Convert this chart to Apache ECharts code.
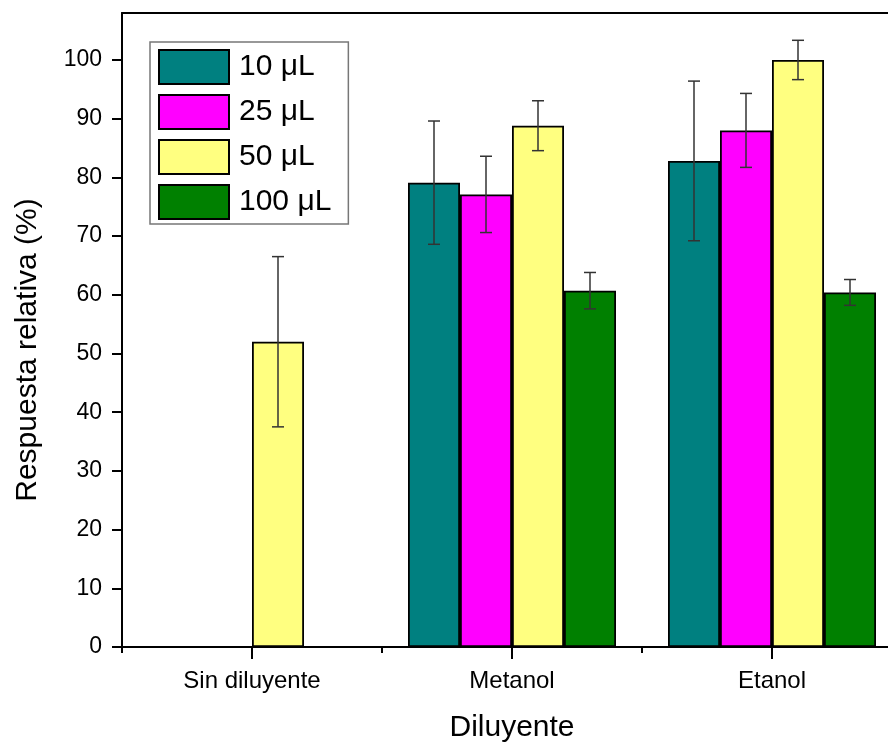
<!DOCTYPE html>
<html>
<head>
<meta charset="utf-8">
<script src="https://cdn.jsdelivr.net/npm/echarts@6/dist/echarts.min.js"></script>
<style>
html,body{margin:0;padding:0;background:#fff;}
#chart{width:888px;height:742px;}
</style>
</head>
<body>
<div id="chart"></div>
<script>
// ---- data ----
const categories = ['Sin diluyente', 'Metanol', 'Etanol'];
const seriesNames = ['10 μL', '25 μL', '50 μL', '100 μL'];
const values10 = [null, 79.1, 82.8];
const values25 = [null, 77.1, 88.0];
const values50 = [52.0, 88.8, 100.0];
const values100 = [null, 60.7, 60.4];
const err10 = [null, 10.5, 13.6];
const err25 = [null, 6.5, 6.3];
const err50 = [14.5, 4.25, 3.35];
const err100 = [null, 3.1, 2.2];
const yTicks = [0, 10, 20, 30, 40, 50, 60, 70, 80, 90, 100];

const colors = ['#008080', '#FF00FF', '#FFFF80', '#008000'];
const allValues = [values10, values25, values50, values100];
const allErrs = [err10, err25, err50, err100];
const FONT = 'Liberation Sans, Arial, sans-serif';

const chart = echarts.init(document.getElementById('chart'), null, {renderer: 'canvas'});

const barSeries = seriesNames.map((name, i) => ({
  name: name,
  type: 'bar',
  xAxisIndex: 0,
  yAxisIndex: 0,
  barGap: '0%',
  barCategoryGap: '20%',
  itemStyle: {color: colors[i], borderColor: '#000', borderWidth: 1.8},
  emphasis: {disabled: true},
  data: allValues[i]
}));

const errSeries = seriesNames.map((name, i) => {
  const offset = (i - 1.5) * 0.2;
  const data = [];
  allValues[i].forEach((v, k) => {
    if (v !== null && allErrs[i][k] !== null) data.push([k, v, allErrs[i][k]]);
  });
  return {
    name: name + ' err',
    type: 'custom',
    xAxisIndex: 0,
    yAxisIndex: 0,
    z: 10,
    silent: true,
    encode: {x: 0, y: 1},
    data: data,
    renderItem: function (params, api) {
      const cat = api.value(0), val = api.value(1), e = api.value(2);
      const band = api.size([1, 0])[0];
      const c = api.coord([cat, val]);
      const x = c[0] + offset * band;
      const yt = api.coord([cat, val + e])[1];
      const yb = api.coord([cat, val - e])[1];
      const st = {stroke: '#333', lineWidth: 1.5};
      const cap = 6;
      return {
        type: 'group',
        children: [
          {type: 'line', shape: {x1: x, y1: yt, x2: x, y2: yb}, style: st},
          {type: 'line', shape: {x1: x - cap, y1: yt, x2: x + cap, y2: yt}, style: st},
          {type: 'line', shape: {x1: x - cap, y1: yb, x2: x + cap, y2: yb}, style: st}
        ]
      };
    }
  };
});

const option = {
  backgroundColor: '#fff',
  animation: false,
  grid: {left: 122, right: -14, top: 13, bottom: 95, containLabel: false, outerBoundsMode: 'none'},
  legend: {
    data: seriesNames,
    orient: 'vertical',
    left: 150,
    top: 42,
    padding: [7, 17, 4, 8],
    itemWidth: 70,
    itemHeight: 34,
    itemGap: 9,
    icon: 'rect',
    backgroundColor: '#fff',
    borderColor: '#777',
    borderWidth: 1.5,
    selectedMode: false,
    textStyle: {fontFamily: FONT, fontSize: 30, color: '#000', padding: [0, 0, 0, 5]}
  },
  xAxis: [
    {
      type: 'category',
      data: categories,
      position: 'bottom',
      axisLine: {show: true, lineStyle: {color: '#000', width: 2}},
      axisTick: {show: true, alignWithLabel: true, length: 12, lineStyle: {color: '#000', width: 2}},
      axisLabel: {fontFamily: FONT, fontSize: 24, color: '#000', margin: 22},
      name: 'Diluyente',
      nameLocation: 'middle',
      nameGap: 66,
      nameTextStyle: {fontFamily: FONT, fontSize: 30, color: '#000'},
      splitLine: {show: false}
    },
    {
      type: 'category',
      data: categories,
      position: 'bottom',
      axisLine: {show: false},
      axisTick: {show: true, alignWithLabel: false, length: 6, lineStyle: {color: '#000', width: 2}},
      axisLabel: {show: false},
      splitLine: {show: false}
    },
    {
      type: 'category',
      data: categories,
      position: 'top',
      axisLine: {show: true, lineStyle: {color: '#000', width: 2}},
      axisTick: {show: false},
      axisLabel: {show: false},
      splitLine: {show: false}
    }
  ],
  yAxis: {
    type: 'value',
    min: 0,
    max: 108,
    interval: 10,
    axisLine: {show: true, lineStyle: {color: '#000', width: 2}},
    axisTick: {show: true, length: 10, customValues: yTicks, lineStyle: {color: '#000', width: 2}},
    axisLabel: {fontFamily: FONT, fontSize: 23, color: '#000', margin: 20, customValues: yTicks},
    splitLine: {show: false}
  },
  graphic: [
    {
      type: 'text',
      x: 28,
      y: 350,
      rotation: Math.PI / 2,
      style: {
        text: 'Respuesta relativa (%)',
        fontFamily: FONT,
        fontSize: 30,
        fill: '#000',
        align: 'center',
        verticalAlign: 'middle'
      }
    }
  ],
  series: barSeries.concat(errSeries)
};

chart.setOption(option);
</script>
</body>
</html>
